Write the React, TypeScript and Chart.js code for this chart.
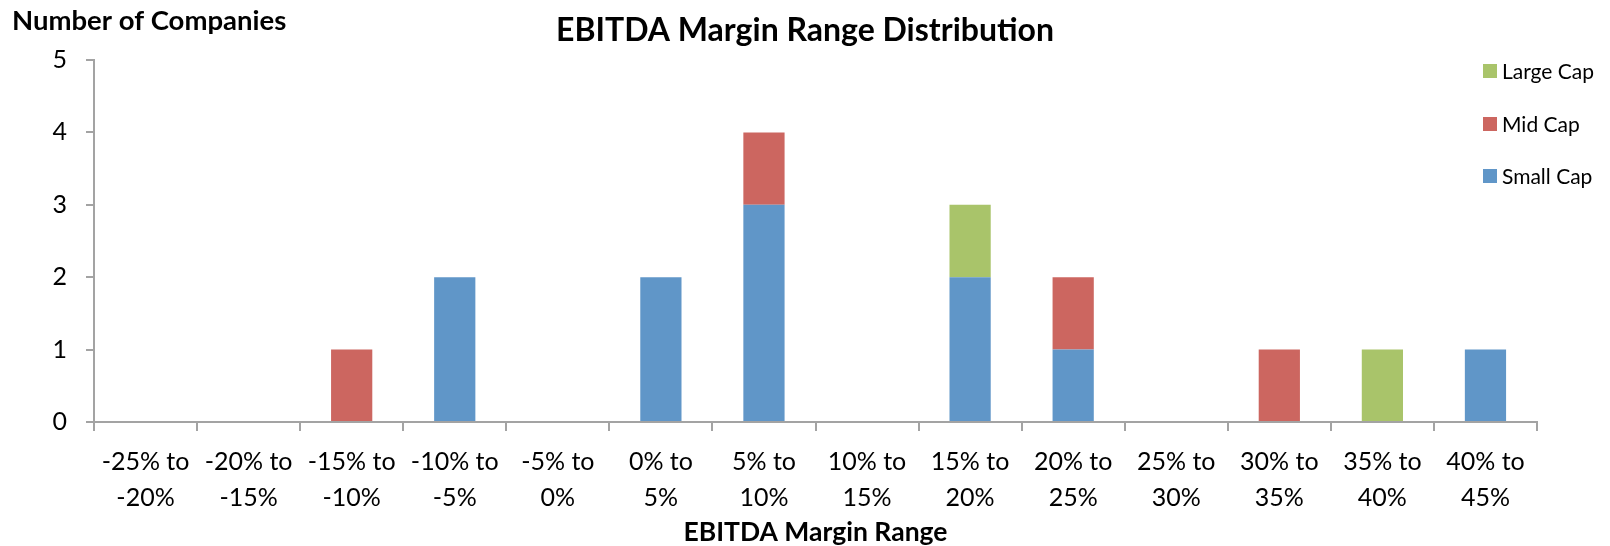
import React, { useEffect, useRef } from "react";
import { Chart, registerables } from "chart.js";

Chart.register(...registerables);

const categories: string[][] = [
  ["-25% to", "-20%"], ["-20% to", "-15%"], ["-15% to", "-10%"], ["-10% to", "-5%"],
  ["-5% to", "0%"], ["0% to", "5%"], ["5% to", "10%"], ["10% to", "15%"],
  ["15% to", "20%"], ["20% to", "25%"], ["25% to", "30%"], ["30% to", "35%"],
  ["35% to", "40%"], ["40% to", "45%"],
];
const smallCap = [0, 0, 0, 2, 0, 2, 3, 0, 2, 1, 0, 0, 0, 1];
const midCap = [0, 0, 1, 0, 0, 0, 1, 0, 0, 1, 0, 1, 0, 0];
const largeCap = [0, 0, 0, 0, 0, 0, 0, 0, 1, 0, 0, 0, 1, 0];
const yTicks = [0, 1, 2, 3, 4, 5];

const TITLE = "EBITDA Margin Range Distribution";
const Y_TITLE = "Number of Companies";
const X_TITLE = "EBITDA Margin Range";

const FONT = "Lato, 'Open Sans', sans-serif";
const AXIS = "#A3A3A3";

const extrasPlugin = {
  id: "extras",
  afterDraw(chart: any) {
    const ctx = chart.ctx;
    ctx.save();
    ctx.fillStyle = "#000";
    ctx.textBaseline = "middle";
    // chart title, centred on the canvas
    ctx.font = `bold 32px ${FONT}`;
    ctx.textAlign = "center";
    ctx.fillText(TITLE, chart.width / 2, 31);
    // y axis title (horizontal, top-left)
    ctx.font = `bold 27.5px ${FONT}`;
    ctx.textAlign = "left";
    ctx.fillText(Y_TITLE, 12, 21);
    // legend (reverse order)
    const ds = chart.data.datasets;
    ctx.font = `21px ${FONT}`;
    const ys = [71, 124, 176];
    for (let i = ds.length - 1, k = 0; i >= 0; i--, k++) {
      const y = ys[k];
      ctx.fillStyle = ds[i].backgroundColor;
      ctx.fillRect(1483, y - 7, 14, 14);
      ctx.fillStyle = "#000";
      ctx.fillText(ds[i].label, 1502, y + 1);
    }
    ctx.restore();
  },
};

export default function App() {
  const ref = useRef<HTMLCanvasElement | null>(null);
  useEffect(() => {
    if (!ref.current) return;
    const chart = new Chart(ref.current, {
      type: "bar",
      data: {
        labels: categories,
        datasets: [
          { label: "Small Cap", data: smallCap, backgroundColor: "#6096C8", borderWidth: 0 },
          { label: "Mid Cap", data: midCap, backgroundColor: "#CC6660", borderWidth: 0 },
          { label: "Large Cap", data: largeCap, backgroundColor: "#A9C46A", borderWidth: 0 },
        ],
      },
      options: {
        animation: false,
        responsive: true,
        maintainAspectRatio: false,
        layout: { padding: { top: 60, left: 0, right: 73, bottom: 0 } },
        datasets: { bar: { barPercentage: 0.4, categoryPercentage: 1 } },
        plugins: {
          legend: { display: false },
          tooltip: { enabled: false },
          title: { display: false },
        },
        scales: {
          x: {
            stacked: true,
            offset: true,
            grid: {
              display: true,
              drawOnChartArea: false,
              drawTicks: true,
              tickLength: 9,
              offset: true,
              color: AXIS,
              lineWidth: 2,
            },
            border: { color: AXIS, width: 2 },
            ticks: {
              color: "#000",
              font: { family: FONT, size: 25, lineHeight: 1.44 },
              padding: 13,
              maxRotation: 0,
              autoSkip: false,
            },
            title: {
              display: true,
              text: X_TITLE,
              color: "#000",
              font: { family: FONT, size: 26.5, weight: "bold", lineHeight: 1.0 },
              padding: { top: 0, bottom: 0 },
            },
            afterFit: (s: any) => { s.height = 124; },
          },
          y: {
            stacked: true,
            min: 0,
            max: 5,
            afterBuildTicks: (s: any) => { s.ticks = yTicks.map((v) => ({ value: v })); },
            grid: {
              display: true,
              drawOnChartArea: false,
              drawTicks: true,
              tickLength: 8,
              color: AXIS,
              lineWidth: 2,
            },
            border: { color: AXIS, width: 2 },
            ticks: {
              color: "#000",
              font: { family: FONT, size: 25 },
              padding: 19,
            },
            afterFit: (s: any) => { s.width = 94; },
          },
        },
      },
      plugins: [extrasPlugin],
    } as any);
    return () => chart.destroy();
  }, []);
  return (
    <div style={{ position: "fixed", left: 0, top: 0, width: 1610, height: 546, background: "#fff" }}>
      <canvas ref={ref} />
    </div>
  );
}
